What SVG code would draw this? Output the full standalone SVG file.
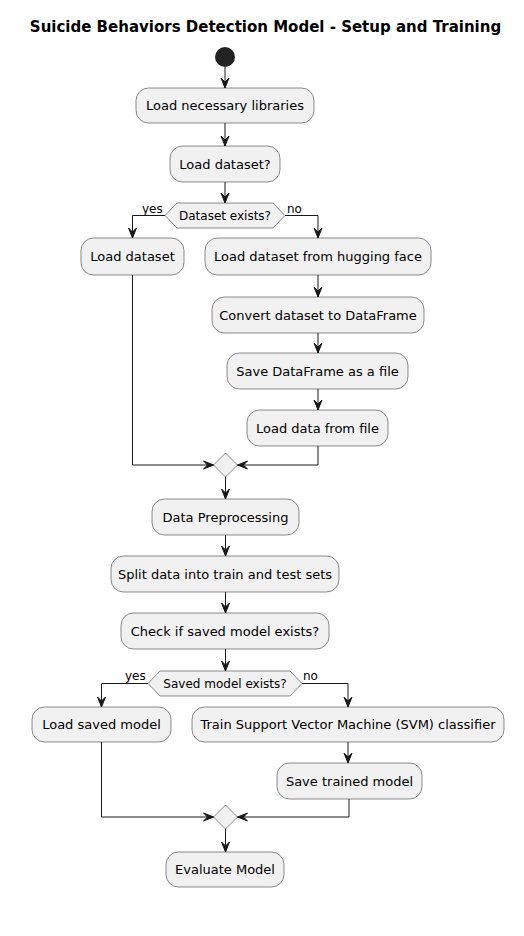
<svg xmlns="http://www.w3.org/2000/svg" width="524" height="936" viewBox="0 0 524 936">
<style>
.bg{fill:#FFFFFF}
.act rect{fill:#F1F1F1;stroke:#181818;stroke-width:0.5}
.act text{font-family:"DejaVu Sans",sans-serif;font-size:13px;fill:#000000;text-anchor:middle}
.dec polygon{fill:#F1F1F1;stroke:#181818;stroke-width:0.5}
.dec text{font-family:"DejaVu Sans",sans-serif;font-size:12px;fill:#000000;text-anchor:middle}
.lbl{font-family:"DejaVu Sans",sans-serif;font-size:12px;fill:#000000}
.edges path{fill:none;stroke:#181818;stroke-width:1}
.edges polygon{fill:#181818;stroke:#181818;stroke-width:1}
.title{font-family:"DejaVu Sans",sans-serif;font-size:15px;font-weight:bold;fill:#000000;text-anchor:middle}
</style>
<rect class="bg" x="0" y="0" width="524" height="936"/>
<text class="title" x="265.5" y="32">Suicide Behaviors Detection Model - Setup and Training</text>

<g id="start"><circle cx="225" cy="57" r="10" fill="#222222"/></g>

<g id="n1" class="act"><rect x="136" y="88" width="178" height="35" rx="12.5"/><text x="225" y="110">Load necessary libraries</text></g>
<g id="n2" class="act"><rect x="170" y="146" width="110" height="36" rx="12.5"/><text x="225" y="168.5">Load dataset?</text></g>
<g id="d1" class="dec"><polygon points="165,215.5 177,203 273,203 285,215.5 273,228 177,228"/><text x="225" y="220">Dataset exists?</text></g>
<text class="lbl" x="142" y="213">yes</text>
<text class="lbl" x="287" y="213">no</text>
<g id="n3" class="act"><rect x="81" y="238" width="103" height="37" rx="12.5"/><text x="132.5" y="261">Load dataset</text></g>
<g id="n4" class="act"><rect x="205" y="238" width="226" height="37" rx="12.5"/><text x="318" y="261">Load dataset from hugging face</text></g>
<g id="n5" class="act"><rect x="212" y="297" width="212" height="36" rx="12.5"/><text x="318" y="319.5">Convert dataset to DataFrame</text></g>
<g id="n6" class="act"><rect x="227" y="353" width="181" height="36" rx="12.5"/><text x="317.5" y="375.5">Save DataFrame as a file</text></g>
<g id="n7" class="act"><rect x="247" y="410" width="141" height="36" rx="12.5"/><text x="317.5" y="432.5">Load data from file</text></g>
<g id="m1" class="dec"><polygon points="225.5,453 237.5,465 225.5,477 213.5,465"/></g>
<g id="n8" class="act"><rect x="152" y="499" width="147" height="36" rx="12.5"/><text x="225.5" y="521.5">Data Preprocessing</text></g>
<g id="n9" class="act"><rect x="111" y="556" width="228" height="36" rx="12.5"/><text x="225" y="578.5">Split data into train and test sets</text></g>
<g id="n10" class="act"><rect x="121" y="613" width="208" height="36" rx="12.5"/><text x="225" y="635.5">Check if saved model exists?</text></g>
<g id="d2" class="dec"><polygon points="148,683.5 160,671 290,671 302,683.5 290,696 160,696"/><text x="225" y="688">Saved model exists?</text></g>
<text class="lbl" x="125" y="680">yes</text>
<text class="lbl" x="303" y="680">no</text>
<g id="n11" class="act"><rect x="32" y="707" width="139" height="35" rx="12.5"/><text x="101.5" y="729">Load saved model</text></g>
<g id="n12" class="act"><rect x="192" y="707" width="312" height="35" rx="12.5"/><text x="348" y="729">Train Support Vector Machine (SVM) classifier</text></g>
<g id="n13" class="act"><rect x="277" y="763" width="145" height="36" rx="12.5"/><text x="349.5" y="785.5">Save trained model</text></g>
<g id="m2" class="dec"><polygon points="225.5,805 237.5,817 225.5,829 213.5,817"/></g>
<g id="n14" class="act"><rect x="166" y="852" width="118" height="35" rx="12.5"/><text x="225" y="874">Evaluate Model</text></g>

<g id="connectors" class="edges">
<path d="M225,67 L225,88"/><polygon points="221,78 225,88 229,78 225,82"/>
<path d="M225,123 L225,146"/><polygon points="221,136 225,146 229,136 225,140"/>
<path d="M225,182 L225,203"/><polygon points="221,193 225,203 229,193 225,197"/>
<path d="M165,215.5 L132.5,215.5 L132.5,238"/><polygon points="128.5,228 132.5,238 136.5,228 132.5,232"/>
<path d="M285,215.5 L318,215.5 L318,238"/><polygon points="314,228 318,238 322,228 318,232"/>
<path d="M318,275 L318,297"/><polygon points="314,287 318,297 322,287 318,291"/>
<path d="M318,333 L318,353"/><polygon points="314,343 318,353 322,343 318,347"/>
<path d="M318,389 L318,410"/><polygon points="314,400 318,410 322,400 318,404"/>
<path d="M318,446 L318,465 L237.5,465"/><polygon points="247.5,461 237.5,465 247.5,469 243.5,465"/>
<path d="M132.5,275 L132.5,465 L213.5,465"/><polygon points="203.5,461 213.5,465 203.5,469 207.5,465"/>
<path d="M225.5,477 L225.5,499"/><polygon points="221.5,489 225.5,499 229.5,489 225.5,493"/>
<path d="M225.5,535 L225.5,556"/><polygon points="221.5,546 225.5,556 229.5,546 225.5,550"/>
<path d="M225.5,592 L225.5,613"/><polygon points="221.5,603 225.5,613 229.5,603 225.5,607"/>
<path d="M225.5,649 L225.5,671"/><polygon points="221.5,661 225.5,671 229.5,661 225.5,665"/>
<path d="M148,683.5 L101.5,683.5 L101.5,707"/><polygon points="97.5,697 101.5,707 105.5,697 101.5,701"/>
<path d="M302,683.5 L348,683.5 L348,707"/><polygon points="344,697 348,707 352,697 348,701"/>
<path d="M348,742 L348,763"/><polygon points="344,753 348,763 352,753 348,757"/>
<path d="M349,799 L349,817 L237.5,817"/><polygon points="247.5,813 237.5,817 247.5,821 243.5,817"/>
<path d="M101.5,742 L101.5,817 L213.5,817"/><polygon points="203.5,813 213.5,817 203.5,821 207.5,817"/>
<path d="M225.5,829 L225.5,852"/><polygon points="221.5,842 225.5,852 229.5,842 225.5,846"/>
</g>
</svg>
